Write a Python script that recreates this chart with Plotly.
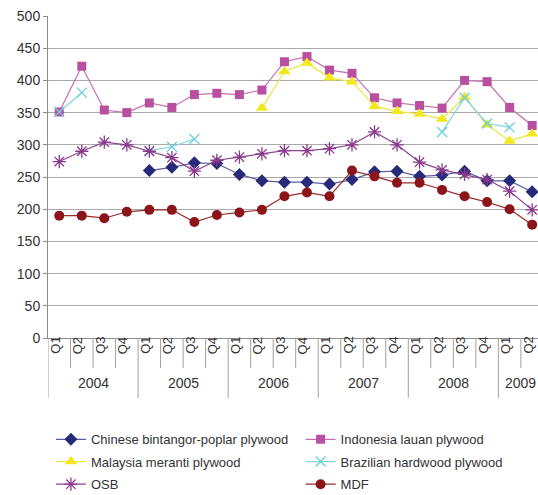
import plotly.graph_objects as go

# Quarterly price index by panel product, 2004 Q1 - 2009 Q2
years = ["2004", "2005", "2006", "2007", "2008", "2009"]
quarters_per_year = [4, 4, 4, 4, 4, 2]
quarter_labels = ["Q1", "Q2", "Q3", "Q4"] * 5 + ["Q1", "Q2"]

chinese = [None, None, None, None, 260, 265, 272, 271, 254, 244, 242, 242,
           239, 246, 258, 259, 251, 253, 259, 244, 244, 227]
indonesia = [351, 422, 354, 350, 365, 358, 378, 380, 378, 385, 429, 437,
             416, 411, 373, 365, 361, 357, 400, 398, 358, 330]
malaysia = [None, None, None, None, None, None, None, None, None, 357, 414, 427,
            404, 398, 360, 352, 348, 340, 374, 331, 306, 317]
brazilian = [351, 381, None, None, 291, 297, 309, None, None, None, None, None,
             None, None, None, None, None, 320, 373, 333, 327, None]
osb = [274, 290, 304, 300, 290, 280, 259, 276, 281, 286, 291, 291,
       294, 300, 320, 300, 273, 261, 254, 246, 228, 199]
mdf = [190, 190, 186, 196, 199, 199, 180, 191, 195, 199, 220, 226,
       220, 260, 251, 241, 241, 230, 220, 211, 200, 176]

x = list(range(len(quarter_labels)))

FONT = "Liberation Sans, Arial, sans-serif"
TEXT = "#333333"
FS = 13

series = [
    ("Chinese bintangor-poplar plywood", chinese, "#262a78", "#5a5ea6", "diamond", 10),
    ("Indonesia lauan plywood", indonesia, "#b94fa0", "#c56fb3", "square", 9),
    ("Malaysia meranti plywood", malaysia, "#f2e81c", "#f0e63c", "triangle-up", 11),
    ("Brazilian hardwood plywood", brazilian, "#6ccfe0", "#7fd5e4", "x-thin-open", 10),
    ("OSB", osb, "#8a3a8c", "#8d4590", "asterisk-open", 11),
    ("MDF", mdf, "#8b1518", "#9b2a2a", "circle", 10),
]

fig = go.Figure()
legend_names = ["legend", "legend2", "legend3", "legend4", "legend5", "legend6"]
for (name, vals, mcol, lcol, sym, size), leg in zip(series, legend_names):
    open_sym = sym.endswith("open")
    fig.add_trace(go.Scatter(
        x=x, y=vals, name=name, mode="lines+markers",
        line=dict(color=lcol, width=1.2),
        marker=dict(symbol=sym, size=size, color=mcol,
                    line=dict(color=mcol, width=1.3 if open_sym else 0)),
        connectgaps=False, legend=leg, showlegend=True,
    ))

# Category dividers and labels below the plot
plot_h = 322.5
shapes = []
annotations = []
pos = -0.5
for yr, n in zip(years, quarters_per_year):
    shapes.append(dict(type="line", xref="x", yref="paper", x0=pos, x1=pos,
                       y0=0, y1=-60 / plot_h, line=dict(color="#a0a0a0", width=1)))
    for q in range(1, n):
        xv = pos + q
        shapes.append(dict(type="line", xref="x", yref="paper", x0=xv, x1=xv,
                           y0=0, y1=-30 / plot_h, line=dict(color="#a0a0a0", width=1)))
    annotations.append(dict(x=pos + n / 2, y=-55.5 / plot_h, xref="x", yref="paper",
                            text=yr, showarrow=False,
                            font=dict(family=FONT, size=FS + 1, color=TEXT)))
    pos += n

for i, ql in enumerate(quarter_labels):
    annotations.append(dict(x=i, y=-18 / plot_h, xref="x", yref="paper", text=ql,
                            showarrow=False, textangle=-90, xshift=-4,
                            font=dict(family=FONT, size=FS, color=TEXT)))

# Two-column legend: one single-entry legend per slot
col_x = [0.006, 0.5155]
row_y = [-101.5 / plot_h, -123.8 / plot_h, -146.5 / plot_h]
legend_layout = {}
for k, leg in enumerate(legend_names):
    legend_layout[leg] = dict(orientation="h", x=col_x[k % 2], y=row_y[k // 2],
                              xanchor="left", yanchor="middle",
                              font=dict(family=FONT, size=FS, color=TEXT),
                              bgcolor="rgba(0,0,0,0)", itemwidth=30, visible=True)

fig.update_layout(
    width=538, height=495,
    showlegend=True,
    margin=dict(l=48, r=0, t=16, b=156.5, autoexpand=False),
    paper_bgcolor="white", plot_bgcolor="white",
    font=dict(family=FONT, size=FS, color=TEXT),
    xaxis=dict(range=[-0.5, 21.26], showgrid=False, zeroline=False,
               showticklabels=False, ticks="", showline=True,
               linecolor="#8c8c8c", linewidth=1),
    yaxis=dict(range=[0, 500], dtick=50, showgrid=True, gridcolor="#aaaaaa",
               gridwidth=1.2, zeroline=False, showline=True, linecolor="#8c8c8c",
               linewidth=1, ticks="outside", ticklen=4, tickcolor="#8c8c8c",
               tickfont=dict(family=FONT, size=FS + 1, color=TEXT)),
    shapes=shapes,
    annotations=annotations,
    **legend_layout,
)

fig.write_html("out.html")
